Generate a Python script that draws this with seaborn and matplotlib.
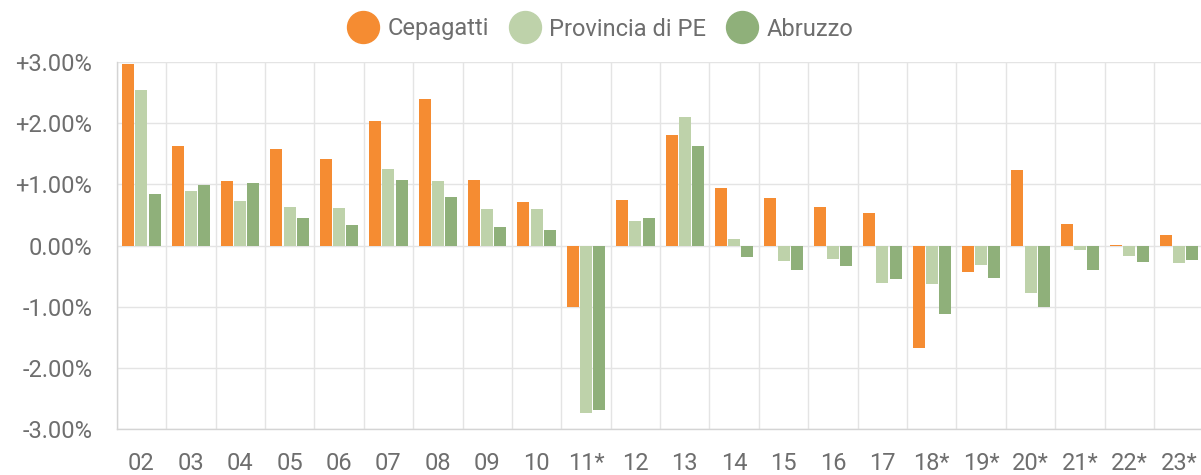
import matplotlib
matplotlib.use("Agg")
import matplotlib.pyplot as plt
from matplotlib.lines import Line2D
from matplotlib.ticker import FuncFormatter, FixedLocator
import seaborn as sns
import pandas as pd
import numpy as np

years = ["02", "03", "04", "05", "06", "07", "08", "09", "10", "11*", "12",
         "13", "14", "15", "16", "17", "18*", "19*", "20*", "21*", "22*", "23*"]
cepagatti = [2.96, 1.63, 1.05, 1.58, 1.42, 2.03, 2.40, 1.07, 0.72, -1.00, 0.74,
             1.81, 0.94, 0.78, 0.63, 0.53, -1.68, -0.43, 1.23, 0.36, 0.01, 0.17]
provincia = [2.54, 0.89, 0.73, 0.63, 0.62, 1.25, 1.05, 0.60, 0.60, -2.73, 0.41,
             2.10, 0.11, -0.25, -0.21, -0.61, -0.63, -0.32, -0.78, -0.07, -0.17, -0.28]
abruzzo = [0.85, 0.99, 1.03, 0.45, 0.33, 1.07, 0.80, 0.30, 0.25, -2.69, 0.45,
           1.62, -0.18, -0.39, -0.33, -0.54, -1.11, -0.53, -1.01, -0.40, -0.27, -0.24]
series_names = ["Cepagatti", "Provincia di PE", "Abruzzo"]
colors = ["#F58C32", "#BED2AA", "#8FB07A"]
y_ticks = [-3, -2, -1, 0, 1, 2, 3]

df = pd.DataFrame({
    "year": years * 3,
    "value": cepagatti + provincia + abruzzo,
    "series": [series_names[0]] * len(years) + [series_names[1]] * len(years) + [series_names[2]] * len(years),
})

sns.set_theme(style="white")
plt.rcParams["font.family"] = ["Roboto", "DejaVu Sans"]

W, H = 1201, 475
fig = plt.figure(figsize=(W / 100, H / 100), dpi=100)
left_px, right_px, top_px, bottom_px = 116.7, 1201, 62, 429.3
ax = fig.add_axes([left_px / W, (H - bottom_px) / H, (right_px - left_px) / W, (bottom_px - top_px) / H])

sns.barplot(data=df, x="year", y="value", hue="series", order=years,
            hue_order=series_names, palette=colors, width=0.8, gap=0.1,
            saturation=1, legend=False, ax=ax, edgecolor="none")

cat_px = 49.4
ax.set_xlim(-0.5, -0.5 + (right_px - left_px) / cat_px)
ax.set_ylim(-3, 3)
ax.set_xlabel("")
ax.set_ylabel("")

grid_c = "#e4e4e4"
spine_c = "#d4d4d4"
text_c = "#6e6e6e"
fs = 17

ax.set_yticks(y_ticks)
ax.yaxis.set_major_formatter(FuncFormatter(lambda v, p: ("+" if v > 0 else "") + f"{v:.2f}%"))
ax.set_xticks(range(len(years)))
ax.set_xticklabels(years)
ax.xaxis.set_minor_locator(FixedLocator(np.arange(len(years) + 1) - 0.5))

ax.grid(False)
ax.yaxis.grid(True, color=grid_c, linewidth=1)
ax.xaxis.grid(True, which="minor", color=grid_c, linewidth=1)
ax.set_axisbelow(True)

ax.tick_params(axis="y", which="major", length=11.5, width=1, color=grid_c,
               labelsize=fs, labelcolor=text_c, pad=6)
ax.tick_params(axis="x", which="major", length=0, labelsize=fs, labelcolor=text_c, pad=16.5)
ax.tick_params(axis="x", which="minor", length=11.5, width=1, color=grid_c)

for s in ["top", "right"]:
    ax.spines[s].set_visible(False)
for s in ["left", "bottom"]:
    ax.spines[s].set_color(spine_c)
    ax.spines[s].set_linewidth(1)

handles = [Line2D([0], [0], marker="o", linestyle="none", markersize=23,
                  markerfacecolor=c, markeredgecolor=c) for c in colors]
leg = fig.legend(handles, series_names, loc="center", bbox_to_anchor=(0.5, 1 - 29 / H),
                 ncol=3, frameon=False, fontsize=fs, handlelength=1.3,
                 handletextpad=0.4, columnspacing=0.85)
for t in leg.get_texts():
    t.set_color(text_c)

fig.savefig("out.png", dpi=100)
